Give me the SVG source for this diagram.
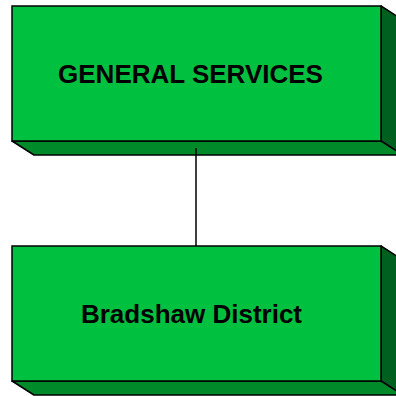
<svg xmlns="http://www.w3.org/2000/svg" width="396" height="396" viewBox="0 0 396 396">
<style>
.front{fill:#00c040;stroke:#000;stroke-width:1.5}
.bottom{fill:#008a2a;stroke:#000;stroke-width:1.5;stroke-linejoin:round}
.side{fill:#006020;stroke:#000;stroke-width:1.5;stroke-linejoin:round}
.lbl{font-family:"Liberation Sans",Arial,sans-serif;font-weight:bold;font-size:26px;fill:#000;text-anchor:middle}
.conn{stroke:#000;stroke-width:1.5;fill:none}
</style>
<rect width="396" height="396" fill="#fff"/>
<g id="general-services">
<polygon class="side" points="381,6 403,20 403,155 381,141"/>
<polygon class="bottom" points="12,141 381,141 403,155 34,155"/>
<rect class="front" x="12" y="6" width="369" height="135"/>
<text class="lbl" x="190.5" y="83">GENERAL SERVICES</text>
</g>
<g id="bradshaw-district">
<polygon class="side" points="381,246 403,260 403,395 381,381"/>
<polygon class="bottom" points="12,381 381,381 403,395 34,395"/>
<rect class="front" x="12" y="246" width="369" height="135"/>
<text class="lbl" x="191.5" y="323">Bradshaw District</text>
</g>
<g id="connectors">
<line class="conn" x1="196" y1="148" x2="196" y2="246"/>
</g>
</svg>
